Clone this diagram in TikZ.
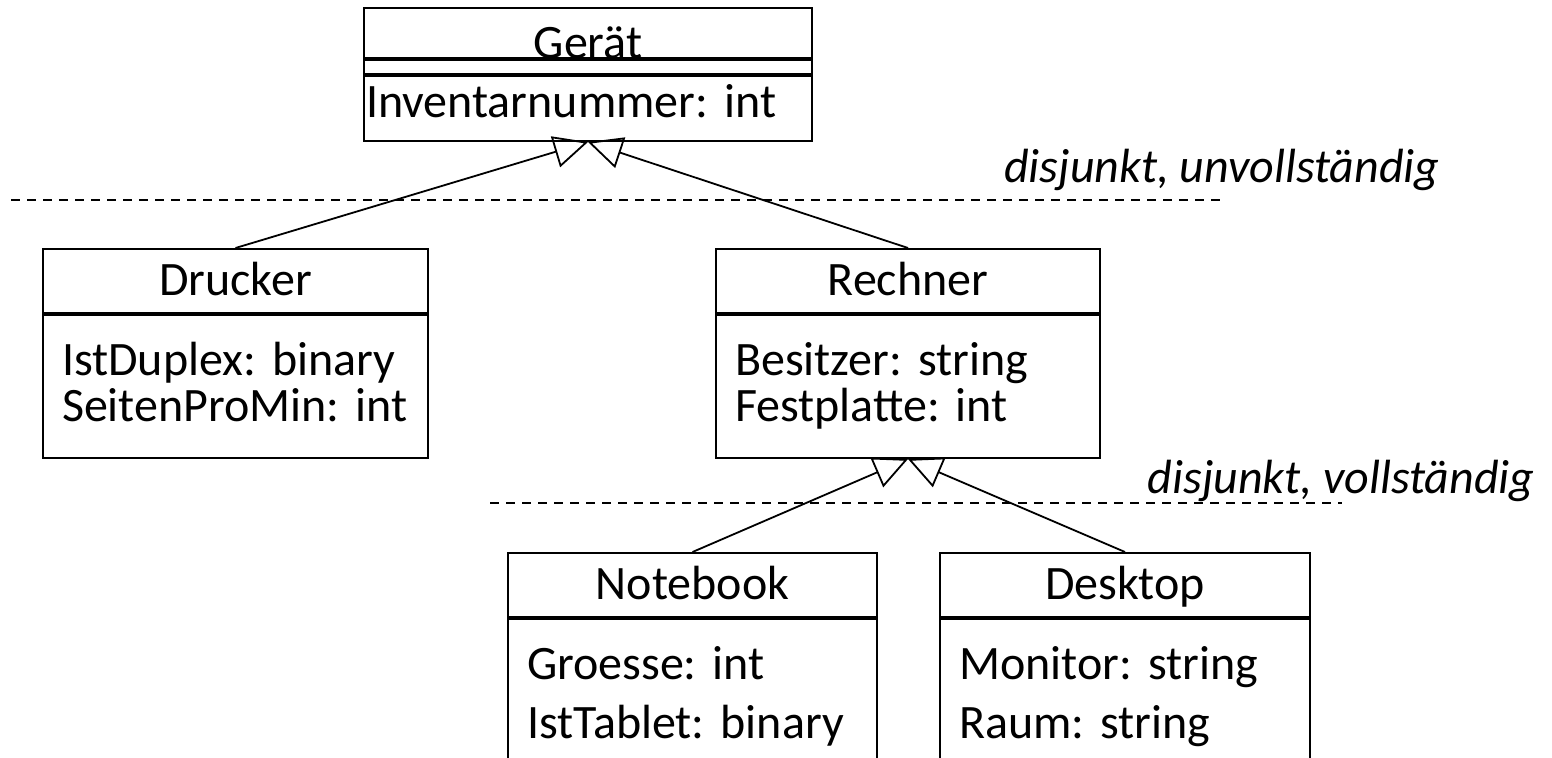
\documentclass[tikz,border=0pt]{standalone}
\usepackage{fontspec}
\setmainfont{Carlito}
\usetikzlibrary{shapes,arrows,arrows.meta,positioning}

\begin{document}
\begin{tikzpicture}[
    x=0.5pt, y=-0.5pt,
    font=\fontsize{24}{23}\selectfont\frenchspacing,
    cls/.style={rectangle, draw, line width=1pt, inner sep=0pt, text height=23pt, text depth=9pt, minimum height=32pt},
    attrs/.style={rectangle, draw, line width=1pt, inner xsep=9.5pt, inner ysep=0pt, align=left, text height=30pt, text depth=41.5pt},
    gen/.style={-{Triangle[open, length=17pt, width=16pt]}, line width=0.9pt},
    sep/.style={dash pattern=on 4.5pt off 3.5pt, line width=0.8pt},
    cond/.style={font=\fontsize{24}{23}\selectfont\itshape, inner sep=0pt, anchor=base east}
]
    \clip (0,0) rectangle (1552,757);

    % top class
    \node[cls, minimum width=224pt, minimum height=25pt, text height=25pt, text depth=0pt, anchor=north west] (geraet) at (363,7) {Gerät};
    \node[cls, minimum width=224pt, minimum height=7pt, text height=0pt, text depth=0pt, below=0pt of geraet] (geraetops) {};
    \node[attrs, inner xsep=1pt, text width=222pt, text height=20.5pt, text depth=12pt, below=0pt of geraetops] (geraetattr) {Inventarnummer: int};

    % first level
    \node[cls, minimum width=192.5pt, anchor=north west] (drucker) at (42,248) {Drucker};
    \node[attrs, text width=173.5pt, below=0pt of drucker] (druckerattr) {IstDuplex: binary\\SeitenProMin: int};

    \node[cls, minimum width=192pt, anchor=north west] (rechner) at (715,248) {Rechner};
    \node[attrs, text width=173pt, below=0pt of rechner] (rechnerattr) {Besitzer: string\\Festplatte: int};

    % second level
    \node[cls, minimum width=184.5pt, anchor=north west] (notebook) at (507,552) {Notebook};
    \node[attrs, font=\fontsize{24}{29.5}\selectfont\frenchspacing, text width=165.5pt, text depth=60pt, below=0pt of notebook] (notebookattr) {Groesse: int\\IstTablet: binary};

    \node[cls, minimum width=185pt, anchor=north west] (desktop) at (939,552) {Desktop};
    \node[attrs, font=\fontsize{24}{29.5}\selectfont\frenchspacing, text width=166pt, text depth=60pt, below=0pt of desktop] (desktopattr) {Monitor: string\\Raum: string};

    % generalisations
    \draw[gen] (drucker.north) -- (geraetattr.south);
    \draw[gen] (rechner.north) -- (geraetattr.south);
    \draw[gen] (notebook.north) -- (rechnerattr.south);
    \draw[gen] (desktop.north) -- (rechnerattr.south);

    % constraints
    \coordinate (sepTopL) at (11,200);
    \coordinate (sepTopR) at (1224,200);
    \draw[sep] (sepTopL) -- (sepTopR);
    \node[cond] (condTop) at (1440,182) {disjunkt, unvollständig};

    \coordinate (sepLowL) at (490,503);
    \coordinate (sepLowR) at (1342,503);
    \draw[sep] (sepLowL) -- (sepLowR);
    \node[cond] (condLow) at (1535,493) {disjunkt, vollständig};
\end{tikzpicture}
\end{document}
